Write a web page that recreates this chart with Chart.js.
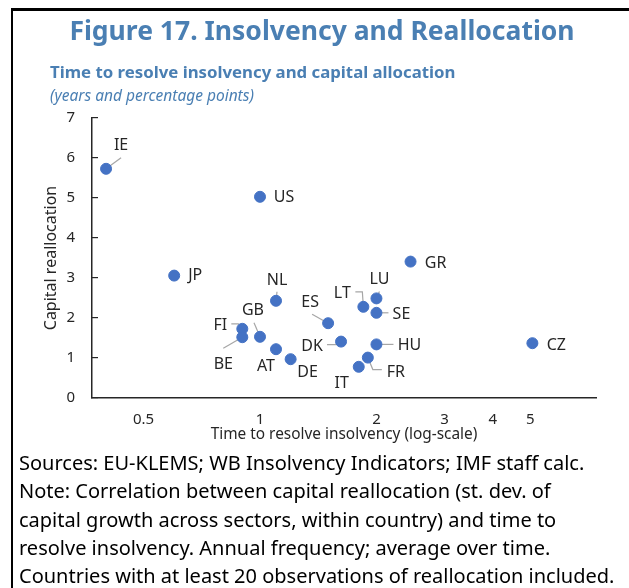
<!DOCTYPE html>
<html>
<head>
<meta charset="utf-8">
<script src="https://cdn.jsdelivr.net/npm/chart.js@4"></script>
<style>
    body { margin: 0; background: #fff; }
    #page { position: relative; width: 629px; height: 588px; overflow: hidden; font-family: "Noto Sans", sans-serif; }
    #frame { position: absolute; left: 11px; top: 8px; width: 640px; height: 600px; border-left: 2px solid #000; border-top: 3px solid #000; }
    #title { position: absolute; left: 0; width: 644px; top: 12px; text-align: center; font-size: 26.5px; font-weight: bold; color: #4a7fb3; }
    #subtitle { position: absolute; left: 50px; top: 60px; font-size: 16.8px; font-weight: bold; color: #4a7fb3; }
    #units { position: absolute; left: 50px; top: 84px; font-size: 15.5px; font-style: italic; color: #4a7fb3; }
    #chart { position: absolute; left: 0; top: 0; }
    #notes { position: absolute; left: 19px; top: 449px; font-size: 20px; line-height: 28.3px; color: #000; white-space: nowrap; }
</style>
</head>
<body>
<div id="page">
    <div id="frame"></div>
    <canvas id="chart" width="629" height="450"></canvas>
    <div id="title">Figure 17. Insolvency and Reallocation</div>
    <div id="subtitle">Time to resolve insolvency and capital allocation</div>
    <div id="units">(years and percentage points)</div>
    <div id="notes">
        Sources: EU-KLEMS; WB Insolvency Indicators; IMF staff calc.<br>
        Note: Correlation between capital reallocation (st. dev. of<br>
        capital growth across sectors, within country) and time to<br>
        resolve insolvency. Annual frequency; average over time.<br>
        Countries with at least 20 observations of reallocation included.
    </div>
</div>
<script>
    var countries = ['IE', 'US', 'JP', 'GR', 'NL', 'LU', 'LT', 'SE', 'ES', 'GB', 'FI', 'BE', 'AT', 'DE', 'DK', 'HU', 'CZ', 'FR', 'IT'];
    var timeToResolve = [0.40, 1.00, 0.60, 2.45, 1.10, 2.00, 1.85, 2.00, 1.50, 1.00, 0.90, 0.90, 1.10, 1.20, 1.62, 2.00, 5.06, 1.90, 1.80];
    var capitalRealloc = [5.73, 5.03, 3.06, 3.41, 2.43, 2.49, 2.28, 2.13, 1.87, 1.53, 1.73, 1.52, 1.22, 0.97, 1.41, 1.34, 1.37, 1.01, 0.78];
    var xTickValues = [0.5, 1, 2, 3, 4, 5];
    var yTickValues = [0, 1, 2, 3, 4, 5, 6, 7];

    // label placement (text centre offset from point, optional leader line), in px
    var labelPlacement = {
        IE: { dx: 15, dy: -23, lead: [[0, 0], [15, -11]] },
        US: { dx: 24, dy: 1 },
        JP: { dx: 21, dy: 0 },
        GR: { dx: 25, dy: 2 },
        NL: { dx: 1, dy: -20, lead: [[1, -9], [0, 0]] },
        LU: { dx: 3, dy: -19, lead: [[3, -7], [0, 0]] },
        LT: { dx: -21, dy: -13, lead: [[-8, -15], [-1, -15], [0, 0]] },
        SE: { dx: 25, dy: 2, lead: [[0, 0], [12, 0]] },
        ES: { dx: -18, dy: -21, lead: [[-16, -9], [0, 0]] },
        GB: { dx: -7, dy: -26, lead: [[-6, -14], [0, 0]] },
        FI: { dx: -22, dy: -3, lead: [[-11, -5], [-4, -5], [0, 0]] },
        BE: { dx: -19, dy: 27, lead: [[-19, 11], [0, 0]] },
        AT: { dx: -10, dy: 17 },
        DE: { dx: 17, dy: 13 },
        DK: { dx: -29, dy: 5, lead: [[-14, 3], [-5, 3], [0, 0]] },
        HU: { dx: 33, dy: 1, lead: [[0, 0], [17, 0]] },
        CZ: { dx: 24, dy: 2 },
        FR: { dx: 28, dy: 15, lead: [[0, 0], [5, 12], [14, 12]] },
        IT: { dx: -17, dy: 17 }
    };

    var points = countries.map(function (c, i) {
        return { x: timeToResolve[i], y: capitalRealloc[i] };
    });

    var countryLabels = {
        id: 'countryLabels',
        beforeDatasetsDraw: function (chart) {
            var ctx = chart.ctx;
            var meta = chart.getDatasetMeta(0);
            ctx.save();
            ctx.strokeStyle = '#a6a6a6';
            ctx.lineWidth = 1.2;
            meta.data.forEach(function (pt, i) {
                var p = labelPlacement[countries[i]];
                if (!p || !p.lead) return;
                ctx.beginPath();
                p.lead.forEach(function (d, k) {
                    if (k === 0) ctx.moveTo(pt.x + d[0], pt.y + d[1]);
                    else ctx.lineTo(pt.x + d[0], pt.y + d[1]);
                });
                ctx.stroke();
            });
            ctx.restore();
        },
        afterDatasetsDraw: function (chart) {
            var ctx = chart.ctx;
            var meta = chart.getDatasetMeta(0);
            ctx.save();
            ctx.font = '16px "Noto Sans"';
            ctx.fillStyle = '#262626';
            ctx.textAlign = 'center';
            ctx.textBaseline = 'middle';
            meta.data.forEach(function (pt, i) {
                var p = labelPlacement[countries[i]];
                ctx.fillText(countries[i], pt.x + p.dx, pt.y + p.dy);
            });
            ctx.restore();
        }
    };

    new Chart(document.getElementById('chart'), {
        type: 'scatter',
        data: {
            datasets: [{
                data: points,
                backgroundColor: '#4472c4',
                borderColor: '#4472c4',
                pointRadius: 5.5,
                pointHoverRadius: 5.5
            }]
        },
        options: {
            responsive: false,
            animation: false,
            layout: { padding: { left: 12, right: 33, top: 118, bottom: 2 } },
            plugins: { legend: { display: false }, tooltip: { enabled: false } },
            scales: {
                x: {
                    type: 'logarithmic',
                    min: Math.exp(-1),
                    max: Math.exp(2),
                    afterBuildTicks: function (scale) {
                        scale.ticks = xTickValues.map(function (v) { return { value: v }; });
                    },
                    afterFit: function (scale) { scale.height = 50; },
                    grid: { display: false, drawTicks: false },
                    border: { display: true, color: '#262626', width: 1.5 },
                    ticks: {
                        padding: 13,
                        autoSkip: false,
                        maxRotation: 0,
                        color: '#262626',
                        font: { family: 'Noto Sans', size: 15 },
                        callback: function (value) { return String(value); }
                    },
                    title: {
                        display: true,
                        text: 'Time to resolve insolvency (log-scale)',
                        color: '#262626',
                        font: { family: 'Noto Sans', size: 15.4 },
                        padding: { top: 0, bottom: 4 }
                    }
                },
                y: {
                    min: 0,
                    max: 7,
                    afterBuildTicks: function (scale) {
                        scale.ticks = yTickValues.map(function (v) { return { value: v }; });
                    },
                    afterFit: function (scale) { scale.width = 80; },
                    grid: { display: true, drawOnChartArea: false, drawTicks: true, tickLength: -6, color: '#262626', lineWidth: 1.2 },
                    border: { display: true, color: '#262626', width: 1.5 },
                    ticks: {
                        padding: 23,
                        color: '#262626',
                        font: { family: 'Noto Sans', size: 15 }
                    },
                    title: {
                        display: true,
                        text: 'Capital reallocation',
                        color: '#262626',
                        font: { family: 'Noto Sans', size: 16 },
                        padding: { top: 30, bottom: 0 }
                    }
                }
            }
        },
        plugins: [countryLabels]
    });
</script>
</body>
</html>
